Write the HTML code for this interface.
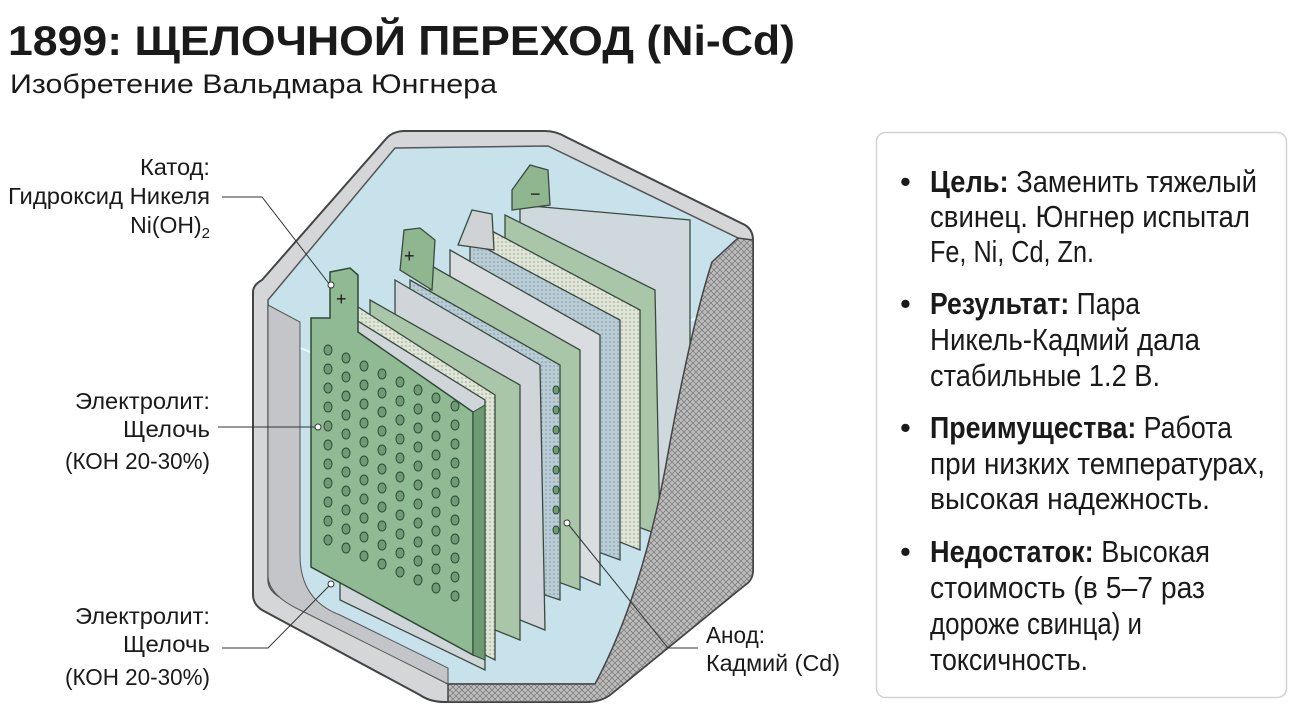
<!DOCTYPE html>
<html><head><meta charset="utf-8"><style>
html,body{margin:0;padding:0;background:#fff;}
svg{display:block;}
text{font-family:"Liberation Sans Narrow","Liberation Sans",sans-serif;fill:#1a1a1a;}
</style></head><body>
<svg width="1301" height="720" viewBox="0 0 1301 720" xmlns="http://www.w3.org/2000/svg">
<defs>
<pattern id="hatch" width="6" height="6" patternUnits="userSpaceOnUse">
<rect width="6" height="6" fill="#bcbcbc"/>
<path d="M0 6L6 0M0 0L6 6" stroke="#777" stroke-width="0.7"/>
</pattern>
<pattern id="mesh" width="4" height="4" patternUnits="userSpaceOnUse">
<rect width="4" height="4" fill="#dfe6d8"/>
<circle cx="2" cy="2" r="0.9" fill="#a9b39a"/>
</pattern>
<pattern id="mesh2" width="4" height="4" patternUnits="userSpaceOnUse">
<rect width="4" height="4" fill="#b9cdd6"/>
<circle cx="2" cy="2" r="0.8" fill="#7d95a0"/>
</pattern>
</defs>

<text x="8" y="55" font-size="42" font-weight="bold" textLength="787" lengthAdjust="spacingAndGlyphs" style="font-family:'Liberation Sans',sans-serif">1899: ЩЕЛОЧНОЙ ПЕРЕХОД (Ni-Cd)</text>
<text x="10" y="93" font-size="27" textLength="487" lengthAdjust="spacingAndGlyphs" style="font-family:'Liberation Sans',sans-serif">Изобретение Вальдмара Юнгнера</text>

<!-- case -->
<path d="M253 292 Q253 285 262 280 L385 140 Q392 131 405 131 L545 131 Q556 131 566 137 L745 225 Q753 230 753 240 L753 570 Q753 580 745 585 L610 695 Q600 702 585 702 L445 702 Q430 702 420 695 L262 610 Q253 604 253 595 Z" fill="#d4d6d8" stroke="#444" stroke-width="2"/>
<path d="M268 300 L395 148 L548 146 L738 238 L738 565 L595 684 L448 684 L285 600 Q268 592 268 580 Z" fill="#c8e2ec" stroke="#555" stroke-width="1.5"/>
<path d="M280 340 L470 415 L738 300" fill="none" stroke="#eaf6fa" stroke-width="2"/>
<path d="M268 305 L300 322 L300 555 Q300 600 340 615 L448 668 L448 684 L300 610 Q268 595 268 575 Z" fill="#c3c5c8" stroke="#555" stroke-width="1"/>

<!-- back plates -->
<g stroke="#3a4a40" stroke-width="1.3">
<path d="M520 205 L690 220 L690 505 L520 470 Z" fill="#cfd8dc"/>
<path d="M505 215 L655 290 L660 535 L505 478 Z" fill="#a9c7a8"/>
<path d="M512 190 L530 165 L548 170 L550 205 L512 210 Z" fill="#8fb68e"/>
<path d="M490 230 L640 310 L640 550 L490 490 Z" fill="url(#mesh)"/>
<path d="M470 240 L620 320 L620 560 L470 505 Z" fill="url(#mesh2)"/>
<path d="M450 250 L600 335 L600 585 L450 520 Z" fill="#d9dde0"/>
<path d="M458 245 L472 210 L492 214 L494 250 Z" fill="#cfd3d6"/>
<path d="M430 265 L580 350 L580 590 L430 535 Z" fill="#a9c7a8"/>
<path d="M410 280 L560 365 L560 600 L410 550 Z" fill="url(#mesh2)"/>
<path d="M395 280 L540 365 L545 630 L395 570 Z" fill="#cfd5d8"/>
<path d="M370 300 L520 385 L520 640 L370 580 Z" fill="#a9c7a8"/>
<path d="M400 270 L404 230 L420 228 L435 240 L432 290 Z" fill="#8fb68e"/>
<path d="M355 305 L495 395 L495 660 L355 590 Z" fill="url(#mesh)"/>
<path d="M340 310 L485 400 L485 670 L340 600 Z" fill="#cfd5d8"/>
</g>
<text x="404" y="262" font-size="18" fill="#2a4a2a">+</text>
<text x="530" y="200" font-size="18" fill="#2a4a2a">−</text>

<!-- front green plate -->
<path d="M311 318 L330 318 L330 272 L350 268 L358 275 L358 332 L473 412 L473 655 L311 567 Z" fill="#8fba93" stroke="#2f4a35" stroke-width="1.5"/>
<path d="M473 412 L485 405 L485 660 L473 655 Z" fill="#6e9a74" stroke="#2f4a35" stroke-width="1"/>
<text x="336" y="305" font-size="18" fill="#2a4a2a">+</text>
<g fill="#6f9a75" stroke="#2e4a33" stroke-width="1">
<g id="r">
<ellipse cx="328" cy="350" rx="4" ry="5"/><ellipse cx="346" cy="358" rx="4" ry="5"/><ellipse cx="364" cy="366" rx="4" ry="5"/><ellipse cx="382" cy="374" rx="4" ry="5"/><ellipse cx="400" cy="382" rx="4" ry="5"/><ellipse cx="418" cy="390" rx="4" ry="5"/><ellipse cx="436" cy="398" rx="4" ry="5"/><ellipse cx="455" cy="406" rx="4" ry="5"/>
</g>
<use href="#r" y="19"/><use href="#r" y="38"/><use href="#r" y="57"/><use href="#r" y="76"/><use href="#r" y="95"/><use href="#r" y="114"/><use href="#r" y="133"/><use href="#r" y="152"/><use href="#r" y="171"/><use href="#r" y="190"/>
</g>
<g fill="#6f9a75" stroke="#2e4a33" stroke-width="1">
<ellipse cx="556" cy="390" rx="3" ry="4"/><ellipse cx="556" cy="410" rx="3" ry="4"/><ellipse cx="556" cy="430" rx="3" ry="4"/><ellipse cx="556" cy="450" rx="3" ry="4"/><ellipse cx="556" cy="470" rx="3" ry="4"/><ellipse cx="556" cy="490" rx="3" ry="4"/><ellipse cx="556" cy="510" rx="3" ry="4"/><ellipse cx="556" cy="530" rx="3" ry="4"/>
</g>

<!-- cutaway hatched wall -->
<path d="M753 240 L753 570 Q753 580 745 585 L610 695 Q600 702 585 702 L448 702 L448 684 L595 684 Q640 600 665 470 Q690 330 712 262 L738 238 Z" fill="url(#hatch)" stroke="#444" stroke-width="1.5"/>

<!-- leaders -->
<g fill="none" stroke="#333" stroke-width="1">
<path d="M222 197 L262 197 L330 285"/>
<path d="M218 427 L316 427"/>
<path d="M222 648 L268 648 L330 585"/>
<path d="M568 524 L668 648 L698 648"/>
</g>
<g fill="#fff" stroke="#333" stroke-width="1"><circle cx="318" cy="427" r="3"/><circle cx="331" cy="584" r="3"/><circle cx="567" cy="523" r="3"/><circle cx="331" cy="285" r="3"/></g>

<g font-size="23" text-anchor="end">
<text x="210" y="175" textLength="70" lengthAdjust="spacingAndGlyphs">Катод:</text>
<text x="210" y="204" textLength="202" lengthAdjust="spacingAndGlyphs">Гидроксид Никеля</text>
<text x="210" y="233">Ni(OH)<tspan font-size="15" dy="5">2</tspan></text>
<text x="210" y="409" textLength="135" lengthAdjust="spacingAndGlyphs">Электролит:</text>
<text x="210" y="437" textLength="87" lengthAdjust="spacingAndGlyphs">Щелочь</text>
<text x="210" y="469" textLength="145" lengthAdjust="spacingAndGlyphs">(КОН 20-30%)</text>
<text x="210" y="624" textLength="135" lengthAdjust="spacingAndGlyphs">Электролит:</text>
<text x="210" y="652" textLength="87" lengthAdjust="spacingAndGlyphs">Щелочь</text>
<text x="210" y="685" textLength="145" lengthAdjust="spacingAndGlyphs">(КОН 20-30%)</text>
</g>
<g font-size="23">
<text x="706" y="643" textLength="59" lengthAdjust="spacingAndGlyphs">Анод:</text>
<text x="706" y="671" textLength="134" lengthAdjust="spacingAndGlyphs">Кадмий (Cd)</text>
</g>

<!-- right panel -->
<rect x="876.5" y="132.5" width="410" height="565" rx="9" fill="#fff" stroke="#d2d2d2" stroke-width="1.5"/>
<g font-size="31">
<text x="900" y="192">•</text><text x="900" y="314">•</text><text x="900" y="438">•</text><text x="900" y="562">•</text>
<text x="930" y="192" textLength="327" lengthAdjust="spacingAndGlyphs"><tspan font-weight="bold">Цель:</tspan> Заменить тяжелый</text>
<text x="930" y="227" textLength="320" lengthAdjust="spacingAndGlyphs">свинец. Юнгнер испытал</text>
<text x="930" y="262" textLength="164" lengthAdjust="spacingAndGlyphs">Fe, Ni, Cd, Zn.</text>
<text x="930" y="314" textLength="210" lengthAdjust="spacingAndGlyphs"><tspan font-weight="bold">Результат:</tspan> Пара</text>
<text x="930" y="350" textLength="270" lengthAdjust="spacingAndGlyphs">Никель-Кадмий дала</text>
<text x="930" y="386" textLength="230" lengthAdjust="spacingAndGlyphs">стабильные 1.2 В.</text>
<text x="930" y="438" textLength="302" lengthAdjust="spacingAndGlyphs"><tspan font-weight="bold">Преимущества:</tspan> Работа</text>
<text x="930" y="474" textLength="335" lengthAdjust="spacingAndGlyphs">при низких температурах,</text>
<text x="930" y="509" textLength="280" lengthAdjust="spacingAndGlyphs">высокая надежность.</text>
<text x="930" y="562" textLength="280" lengthAdjust="spacingAndGlyphs"><tspan font-weight="bold">Недостаток:</tspan> Высокая</text>
<text x="930" y="598" textLength="275" lengthAdjust="spacingAndGlyphs">стоимость (в 5–7 раз</text>
<text x="930" y="634" textLength="212" lengthAdjust="spacingAndGlyphs">дороже свинца) и</text>
<text x="930" y="670" textLength="158" lengthAdjust="spacingAndGlyphs">токсичность.</text>
</g>
</svg>
</body></html>
